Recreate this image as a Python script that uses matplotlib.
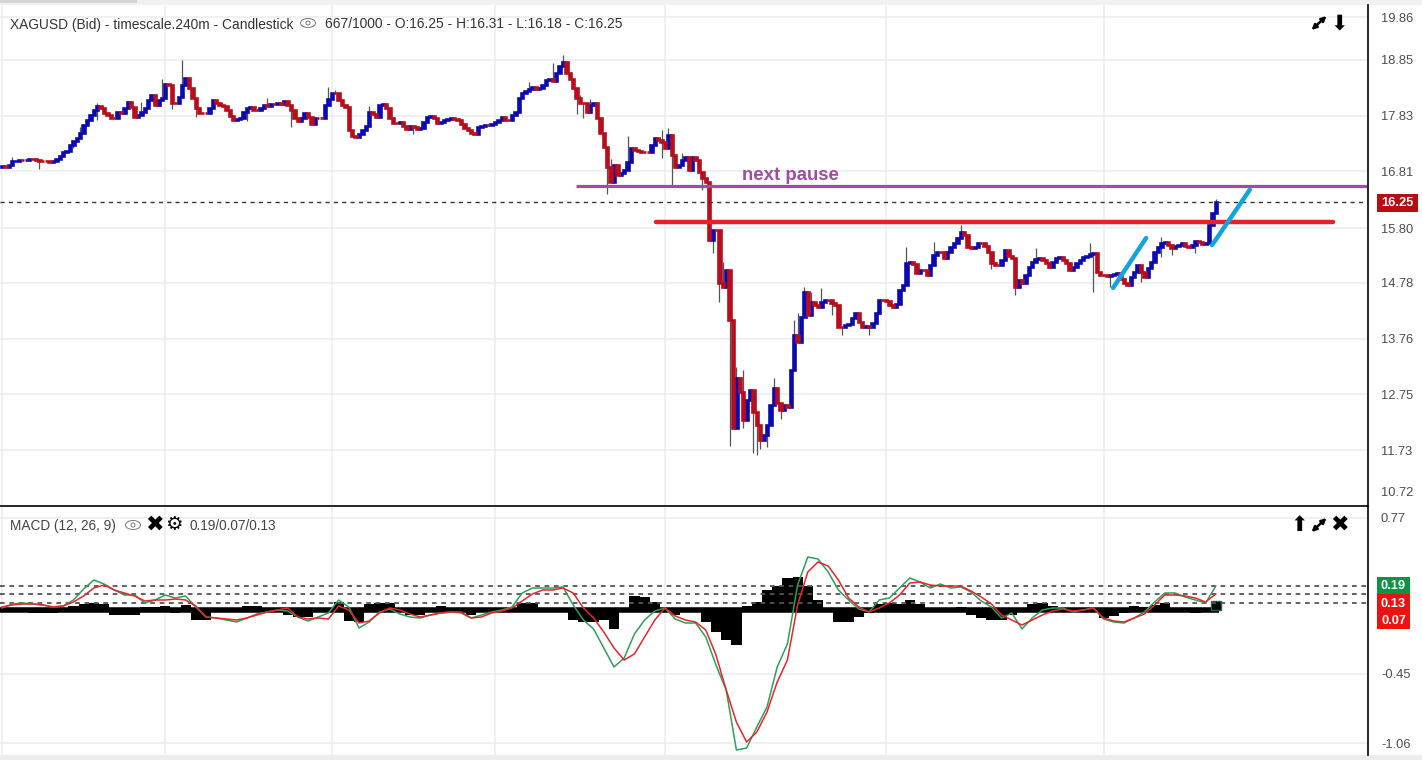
import numpy as np
import matplotlib
matplotlib.use("Agg")
import matplotlib.pyplot as plt
from matplotlib.patches import Ellipse, Circle, Rectangle

plt.rcParams['font.family'] = ['Liberation Sans', 'DejaVu Sans']

# closes, one per candle
closes = [
    16.92, 16.90, 16.93, 17.00, 17.01, 17.03, 17.02, 17.03, 17.05, 17.04,
    17.02, 17.00, 17.00, 17.00, 16.98, 17.00, 17.05, 17.09, 17.17, 17.18,
    17.29, 17.37, 17.43, 17.52, 17.66, 17.76, 17.85, 17.94, 18.00, 17.98,
    17.88, 17.85, 17.79, 17.79, 17.90, 17.88, 17.97, 18.08, 17.99, 17.81,
    17.85, 17.90, 17.97, 18.12, 18.21, 18.03, 18.12, 18.16, 18.41, 18.39,
    18.07, 18.07, 18.18, 18.39, 18.52, 18.34, 18.16, 17.97, 17.88, 17.88,
    17.88, 17.97, 18.12, 18.07, 18.03, 18.00, 17.94, 17.83, 17.75, 17.77,
    17.79, 17.90, 17.97, 17.99, 17.94, 17.94, 17.97, 18.03, 18.01, 18.05,
    18.05, 18.07, 18.05, 18.10, 18.03, 17.94, 17.79, 17.74, 17.79, 17.88,
    17.81, 17.68, 17.79, 17.79, 17.79, 18.03, 18.14, 18.25, 18.25, 18.12,
    18.03, 17.99, 17.57, 17.46, 17.44, 17.50, 17.57, 17.65, 17.90, 17.86,
    17.81, 18.03, 18.05, 17.97, 17.79, 17.70, 17.70, 17.72, 17.65, 17.59,
    17.65, 17.63, 17.59, 17.61, 17.72, 17.81, 17.83, 17.79, 17.70, 17.72,
    17.75, 17.77, 17.79, 17.77, 17.75, 17.68, 17.61, 17.57, 17.52, 17.50,
    17.63, 17.65, 17.66, 17.66, 17.68, 17.72, 17.75, 17.81, 17.75, 17.75,
    17.85, 17.90, 18.16, 18.25, 18.29, 18.32, 18.36, 18.32, 18.34, 18.39,
    18.48, 18.50, 18.47, 18.61, 18.74, 18.81, 18.61, 18.50, 18.34, 18.16,
    18.07, 18.07, 17.90, 18.03, 18.07, 17.79, 17.52, 17.26, 16.90, 16.62,
    16.93, 16.75, 16.79, 16.84, 16.99, 17.24, 17.21, 17.19, 17.17, 17.17,
    17.17, 17.30, 17.43, 17.39, 17.35, 17.24, 17.48, 17.12, 16.90, 16.93,
    17.03, 17.08, 16.84, 17.08, 17.03, 16.81, 16.70, 16.62, 15.57, 15.75,
    15.75, 14.78, 14.71, 15.02, 14.11, 12.14, 13.04, 12.80, 12.28, 12.65,
    12.83, 12.43, 12.19, 11.92, 12.01, 12.19, 12.55, 12.86, 12.59, 12.46,
    12.55, 12.51, 13.19, 13.83, 13.70, 14.16, 14.62, 14.20, 14.43, 14.38,
    14.34, 14.43, 14.47, 14.47, 14.42, 14.38, 13.98, 13.98, 14.02, 14.03,
    14.14, 14.23, 14.07, 13.98, 14.00, 13.98, 14.05, 14.23, 14.47, 14.47,
    14.45, 14.38, 14.34, 14.40, 14.65, 14.74, 15.15, 15.16, 15.13, 14.96,
    15.02, 15.02, 14.93, 15.11, 15.29, 15.35, 15.35, 15.24, 15.35, 15.44,
    15.51, 15.60, 15.71, 15.66, 15.44, 15.42, 15.44, 15.51, 15.51, 15.46,
    15.35, 15.15, 15.11, 15.11, 15.20, 15.38, 15.27, 15.24, 14.71, 14.84,
    14.78, 14.93, 15.07, 15.16, 15.22, 15.24, 15.20, 15.15, 15.07, 15.16,
    15.24, 15.25, 15.20, 15.15, 15.02, 15.07, 15.15, 15.20, 15.25, 15.27,
    15.31, 15.33, 14.98, 14.93, 14.93, 14.91, 14.93, 14.95, 14.96, 14.85,
    14.78, 14.74, 14.89, 14.98, 15.11, 14.98, 14.89, 15.05, 15.16, 15.35,
    15.44, 15.51, 15.53, 15.47, 15.42, 15.46, 15.47, 15.51, 15.46, 15.44,
    15.47, 15.55, 15.53, 15.49, 15.51, 15.84, 16.06, 16.25,
]

# the wicks that stand out
high_bars = [3, 23, 28, 41, 47, 53, 78, 96, 98, 108, 155, 162, 165, 168, 170, 173,
             179, 184, 194, 196, 200, 212, 215, 216, 218, 227, 233, 234, 236, 238,
             241, 266, 274, 282, 304, 320, 341, 357]
high_vals = [17.08, 17.63, 18.07, 18.08, 18.50, 18.85, 18.16, 18.36, 18.30, 18.01,
             18.45, 18.80, 18.94, 18.45, 18.21, 18.14, 17.04, 17.46, 17.57, 17.61,
             17.15, 15.16, 13.25, 13.25, 13.20, 13.05, 14.10, 14.23, 14.70, 14.62,
             14.69, 15.44, 15.53, 15.84, 15.42, 15.51, 15.62, 16.31]
low_bars = [11, 21, 28, 50, 57, 72, 85, 121, 169, 171, 178, 194, 197, 206, 209, 211,
            214, 218, 221, 222, 223, 225, 229, 244, 247, 255, 291, 298, 321, 326,
            335, 341, 344, 351]
low_vals = [16.85, 17.24, 17.76, 17.95, 17.81, 17.74, 17.63, 17.50, 17.86, 17.79,
            16.40, 17.06, 16.57, 16.48, 15.33, 14.43, 11.80, 12.13, 11.68, 11.64,
            11.75, 11.78, 12.30, 14.20, 13.83, 13.83, 15.03, 14.56, 14.62, 14.71,
            14.80, 15.25, 15.29, 15.33]

price_ticks = [19.63, 18.85, 17.83, 16.82, 15.78, 14.78, 13.76, 12.75, 11.73, 10.97]
price_labels = ['19.86', '18.85', '17.83', '16.81', '15.80', '14.78', '13.76', '12.75', '11.73', '10.72']
time_ticks = [0, 48, 97, 145, 195, 260, 324]
last_price = 16.25

# drawn by hand on the chart
pause_level = 16.55
pause_span = [168.8, 401.5]
red_level = 15.89
red_span = [192.4, 391.5]
blue_line_1 = ([326.8, 336.5], [14.69, 15.60])
blue_line_2 = ([355.9, 367.0], [15.47, 16.48])

# MACD pane, one value every third candle
macd_line = [
    .035, .063, .07, .063, .056, .042, .049, .091, .168, .231,
    .203, .161, .126, .126, .07, .091, .126, .105, .119, .042,
    -.028, -.035, -.049, -.063, -.035, -.007, .007, .021, .014, -.028,
    -.056, -.028, 0, .091, .042, -.105, -.063, .007, .028, -.007,
    -.028, -.035, -.014, 0, .007, 0, -.035, -.014, .007, .021,
    .042, .14, .175, .175, .175, .182, .056, -.049, -.112, -.245,
    -.378, -.315, -.147, -.049, .014, .035, -.042, -.07, -.07, -.168,
    -.364, -.539, -.959, -.945, -.798, -.658, -.378, -.217, .196, .392,
    .378, .287, .161, .091, .028, .007, .091, .105, .175, .245,
    .217, .175, .203, .175, .182, .147, .084, .042, -.035, 0,
    -.112, -.035, .021, .035, .035, .007, .021, .035, -.042, -.063,
    -.07, -.035, .007, .077, .14, .14, .112, .091, .07, .189,
]
signal_line = [
    .042, .056, .063, .063, .056, .042, .049, .077, .119, .175,
    .196, .161, .14, .119, .084, .091, .091, .098, .091, .049,
    -.028, -.035, -.042, -.049, -.035, -.014, .007, .021, .035, -.028,
    -.042, -.035, -.042, .049, .021, -.07, -.056, 0, .035, .021,
    -.007, -.028, -.014, 0, .007, .007, -.035, -.028, 0, .014,
    .035, .084, .133, .161, .161, .175, .14, .035, -.035, -.133,
    -.245, -.329, -.287, -.168, -.049, .035, -.021, -.049, -.063, -.119,
    -.294, -.539, -.763, -.903, -.833, -.693, -.483, -.329, .056, .287,
    .357, .329, .231, .105, .042, .007, .035, .07, .126, .21,
    .217, .196, .189, .189, .189, .154, .112, .063, -.014, -.049,
    -.084, -.049, -.014, .014, .028, .014, .021, .035, -.035, -.056,
    -.063, -.035, -.007, .056, .126, .126, .119, .105, .077, .133,
]
macd_hist = [
    .021, .021, .021, 0, 0, 0, .028, .049, .063, .07,
    .063, -.014, -.014, -.014, .042, .042, .049, 0, .056, -.049,
    -.049, .007, .007, .007, .049, .049, .028, .028, -.014, -.028,
    -.028, .035, .028, .077, -.056, -.063, .063, .07, .07, .007,
    -.014, -.014, .028, .049, .021, .014, -.014, .021, .021, .028,
    .028, .07, .07, .035, .021, .021, -.049, -.063, -.063, -.049,
    -.112, .021, .119, .112, .077, .021, -.014, .007, .021, -.063,
    -.133, -.189, -.224, .049, .077, .161, .189, .245, .252, .189,
    .091, .007, -.063, -.063, -.028, 0, .063, .07, .063, .091,
    .063, .007, .021, .007, .042, -.014, -.035, -.049, -.049, -.014,
    .007, .063, .07, .049, .021, .007, .014, .035, -.035, -.021,
    0, .049, .042, .056, .07, .021, .007, 0, .007, .084,
]
macd_step = 3
hist_base = 0.021
macd_levels = [0.19, 0.13, 0.07]
macd_ticks = [0.665, -0.4235, -0.91]
macd_labels = ['0.77', '-0.45', '-1.06']

UP = '#0a0ab0'
DOWN = '#b80d1c'
GRID = '#ececec'
LABEL = '#4d4d4d'

W, H = 1422, 760
fig = plt.figure(figsize=(W / 100, H / 100), dpi=100, facecolor='white')


def pane(top, bottom):
    # axes from pixel rows, x runs up to the vertical rule at 1367
    return fig.add_axes([0, 1 - bottom / H, 1367 / W, (bottom - top) / H])


def style_pane(ax, ticks, labels):
    ax.set_xlim(-2 / 3.4, 1365 / 3.4)
    ax.set_xticks(time_ticks)
    ax.set_yticks(ticks)
    ax.set_yticklabels(labels)
    ax.yaxis.tick_right()
    ax.tick_params(axis='y', length=0, pad=10, labelsize=9.3, labelcolor=LABEL)
    ax.tick_params(axis='x', length=0, labelbottom=False)
    ax.grid(True, color=GRID, lw=1.1, zorder=0)
    ax.set_axisbelow(True)
    for s in ax.spines.values():
        s.set_visible(False)


# price pane
ax = pane(5, 505)
closes_a = np.array(closes)
opens = np.r_[closes_a[0] - 0.02, closes_a[:-1]]
idx = np.arange(len(closes_a))
highs = np.maximum(opens, closes_a)
lows = np.minimum(opens, closes_a)
highs[high_bars] = high_vals
lows[low_bars] = low_vals
rising = closes_a > opens

ax.vlines(idx, lows, highs, color='#555555', lw=0.9, zorder=2)
# red goes on top of blue, the flat stretches read as red in the original
ax.bar(idx[rising], (closes_a - opens)[rising], bottom=opens[rising], width=0.7,
       color=UP, edgecolor=UP, lw=1.9, zorder=3)
ax.bar(idx[~rising], (closes_a - opens)[~rising], bottom=opens[~rising], width=0.7,
       color=DOWN, edgecolor=DOWN, lw=1.9, zorder=3.5)
ax.axhline(last_price, color='#333333', lw=1, dashes=(3, 3), zorder=4)
ax.plot(pause_span, [pause_level] * 2, color='#a04ca3', lw=2.3, solid_capstyle='butt', zorder=5)
ax.plot(red_span, [red_level] * 2, color='#e8202a', lw=3.2, solid_capstyle='round', zorder=5)
for xs, ys in (blue_line_1, blue_line_2):
    ax.plot(xs, ys, color='#12a5dc', lw=3.2, solid_capstyle='round', zorder=6)
ax.set_ylim(10.73, 19.85)
style_pane(ax, price_ticks, price_labels)
ax.get_ygridlines()[-1].set_visible(False)

# MACD pane
ax2 = pane(507, 755)
macd_x = np.arange(len(macd_line)) * macd_step
hist = np.array(macd_hist)
ax2.hlines(hist_base, macd_x[0] - 1, macd_x[-1] + 1, color='black', lw=4, zorder=2)
bars = ax2.bar(macd_x, hist - hist_base, bottom=hist_base, width=macd_step, color='black', zorder=2)
bars[-1].set_edgecolor('#14703a')
for lvl in macd_levels:
    ax2.axhline(lvl, color='#555555', lw=1.3, dashes=(2.6, 2.6), zorder=3)
ax2.plot(macd_x, macd_line, color='#2f9e5b', lw=1.1, zorder=4)
ax2.plot(macd_x, signal_line, color='#e5262b', lw=1.1, zorder=5)
ax2.set_ylim(-0.994, 0.742)
style_pane(ax2, macd_ticks, macd_labels)

# overlay in pixel coordinates for the chrome around the panes
ov = fig.add_axes([0, 0, 1, 1], facecolor='none')
ov.set_xlim(0, W)
ov.set_ylim(H, 0)
ov.axis('off')
ov.add_patch(Rectangle((0, 0), W, 5, color='#f1f1f1', lw=0))
ov.add_patch(Rectangle((0, 0), 137, 3, color='#d4d4d4', lw=0))
ov.add_patch(Rectangle((0, 755), W, 5, color='#ececec', lw=0))
ov.plot([0, 1368], [505.5, 505.5], color='black', lw=1.2)
ov.plot([1368, 1368], [5, 755], color='black', lw=1.2)

ov.text(10, 24.5, 'XAGUSD (Bid) - timescale.240m - Candlestick', fontsize=9.9, color='#333333', va='center')
ov.text(325, 24.5, '667/1000 - O:16.25 - H:16.31 - L:16.18 - C:16.25', fontsize=9.9, color='#333333', va='center')
ov.text(10, 526, 'MACD (12, 26, 9)', fontsize=9.8, color='#444444', va='center')
ov.text(190, 526, '0.19/0.07/0.13', fontsize=9.8, color='#444444', va='center')
ov.text(742, 176, 'next pause', fontsize=13.4, fontweight='bold', color='#a04ca3', va='center')

# eye icons
for ex, ey in ((308, 23), (133, 525)):
    ov.add_patch(Ellipse((ex, ey), 15, 9, fc='none', ec='#777777', lw=0.7))
    ov.add_patch(Circle((ex, ey), 2, fc='none', ec='#777777', lw=0.7))

# the expand icon has no glyph in the installed fonts
for ex, ey in ((1319, 23), (1319, 525)):
    ov.annotate('', xy=(ex + 7.5, ey - 7), xytext=(ex - 7.5, ey + 7),
                arrowprops=dict(arrowstyle='<|-|>', color='black', lw=1.8, mutation_scale=7, shrinkA=0, shrinkB=0))

icon_kw = dict(family='DejaVu Sans', color='black', ha='center', va='center')
ov.text(1339, 23, '⬇', fontsize=15, **icon_kw)
ov.text(154, 525, '✖', fontsize=16, **icon_kw)
ov.text(174, 525, '⚙', fontsize=14, fontweight='bold', **icon_kw)
ov.text(1299, 525, '⬆', fontsize=15, **icon_kw)
ov.text(1339, 525, '✖', fontsize=16, **icon_kw)

# value pills on the price scale
ov.add_patch(Rectangle((1377, 194), 41, 18, color='#b50d12', lw=0))
ov.text(1397.5, 203, '16.25', color='white', fontsize=9.3, fontweight='bold', ha='center', va='center')
ov.add_patch(Rectangle((1377, 577), 33, 17, color='#0b9444', lw=0))
ov.add_patch(Rectangle((1377, 594), 33, 35, color='#ee1111', lw=0))
ov.text(1393.5, 586, '0.19', color='white', fontsize=9.3, fontweight='bold', ha='center', va='center')
ov.text(1393.5, 604, '0.13', color='white', fontsize=9.3, fontweight='bold', ha='center', va='center')
ov.text(1393.5, 621, '0.07', color='white', fontsize=9.3, fontweight='bold', ha='center', va='center')

fig.savefig('out.png', dpi=100)
